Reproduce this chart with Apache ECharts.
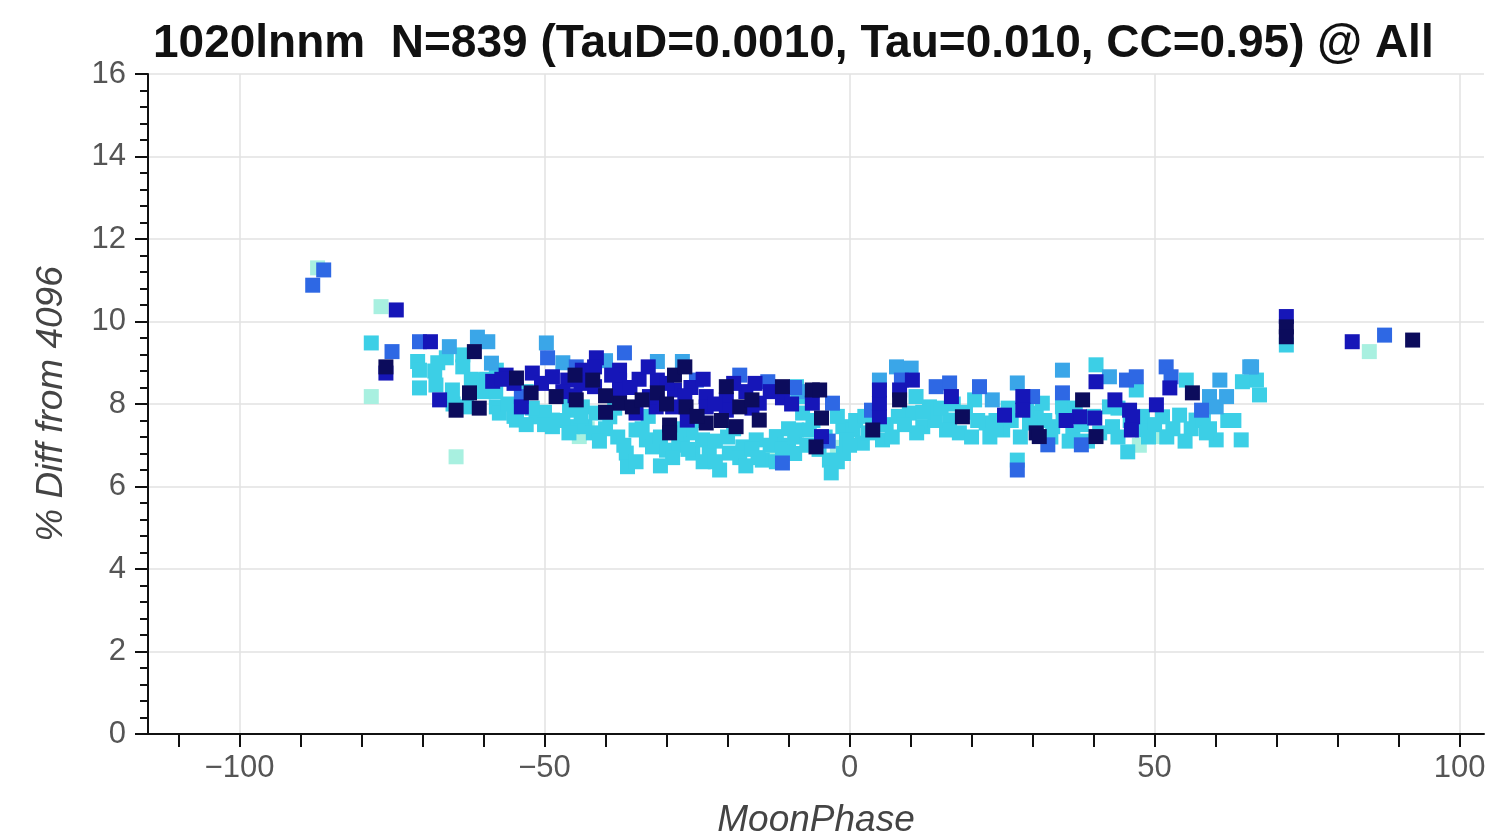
<!DOCTYPE html>
<html>
<head>
<meta charset="utf-8">
<script src="https://cdn.jsdelivr.net/npm/echarts@6/dist/echarts.min.js"></script>
<style>
html,body{margin:0;padding:0;background:#fff;}
#chart{width:1485px;height:839px;}
</style>
</head>
<body>
<div id="chart"></div>
<script>
// ---- Data (MoonPhase, % Diff from 4096), grouped by marker colour ----
const titleText = "1020lnnm  N=839 (TauD=0.0010, Tau=0.010, CC=0.95) @ All";
const xName = "MoonPhase";
const yName = "% Diff from 4096";
const xTickValues = [-110,-100,-90,-80,-70,-60,-50,-40,-30,-20,-10,0,10,20,30,40,50,60,70,80,90,100];
const xLabelValues = [-100,-50,0,50,100];
const xGridValues = [-100,-50,0,50,100];

const palePts = [[-87.2,11.30],[-76.8,10.36],[-78.4,8.18],[-64.5,6.72],[-44.3,7.21],[-43.0,7.40],[50.8,7.21],[85.2,9.27],[-13.0,6.75],[47.5,7.0],[-2.0,6.95]];

const cyanPts = [
[-78.4,9.48],[-70.8,9.03],[-70.5,8.82],[-70.5,8.39],[-66.1,9.12],[-63.4,9.19],[-63.4,8.90],[-61.8,8.58],[-67.8,8.46],[-65.1,8.34],
[-62.8,7.93],[-57.9,8.82],[-57.9,7.93],[-57.4,7.78],[-54.6,7.61],[-51.4,7.69],[-48.7,7.61],[-45.9,7.85],[-45.4,7.45],[-48.7,7.45],
[-45.9,8.18],[-43.8,7.93],[-41.5,7.78],[-39.3,7.69],[-35.0,7.37],[-33.3,7.13],[-36.6,6.81],[-36.4,6.48],[-32.3,6.96],[-30.0,6.88],
[-27.4,7.13],[-25.7,6.81],[-24.1,7.13],[-23.0,6.81],[-21.3,6.40],[-19.7,6.81],[-17.5,6.96],[-15.3,7.13],[-14.3,6.64],[-12.0,7.21],
[-8.7,7.37],[-7.7,7.78],[-8.7,8.42],[-7.7,8.18],[-43.4,7.45],[-3.3,6.64],[-3.0,6.33],[-6.6,7.37],[-1.1,7.45],[0.5,7.37],
[-0.5,7.13],[2.1,7.05],[5.4,7.13],[10.9,8.18],[9.8,7.78],[12.0,7.45],[13.1,7.93],[16.4,7.61],[15.9,7.37],[20.5,8.10],
[22.4,7.54],[25.1,7.37],[29.5,7.54],[27.5,6.64],[30.6,7.78],[40.4,8.95],[47.0,8.34],[31.6,8.02],[34.9,7.93],[42.6,7.93],
[43.1,7.45],[45.6,6.84],[48.0,7.37],[51.3,7.69],[54.1,7.73],[56.8,7.61],[55.2,8.58],[60.1,7.13],[64.2,7.13],[66.7,8.58],
[67.2,8.22],[64.4,8.54],[30.6,7.54],[33.3,7.45],[36.6,7.30],[71.6,9.43],
[-55.0,7.70],[-50.0,7.80],[-47.0,7.60],[-40.0,7.40],[-38.0,7.20],[-34.0,7.40],[-31.0,7.20],[-28.0,7.00],[-26.0,7.30],[-22.0,7.10],
[-20.0,7.20],[-18.0,6.70],[-16.0,6.90],[-13.0,7.00],[-10.0,7.40],[-10.0,7.00],[-6.0,7.60],[-2.0,7.70],[1.0,7.60],[3.0,7.30],
[6.0,7.50],[8.0,7.70],[11.0,7.30],[14.0,7.60],[18.0,7.30],[19.0,7.80],[21.0,7.60],[24.0,7.60],[26.0,7.90],[28.0,7.20],
[32.0,7.60],[35.0,7.60],[38.0,7.50],[41.0,7.30],[44.0,7.90],[48.0,7.70],[50.0,7.50],[53.0,7.40],[56.0,7.40],[58.0,7.60],
[-60.0,8.30],[-56.0,8.00],[-52.0,7.90],[-44.0,7.70],[-42.0,7.30],[-29.0,6.70],[-24.0,6.60],[-17.0,6.50],[-11.0,6.90],[-5.0,6.90],
[-1.0,6.80],[-59.5,8.60],[-53.0,8.30],[-38.5,7.90],[-33.0,7.70],[-26.5,6.90],[-9.0,6.80],[-4.0,7.20],[2.5,7.70],[7.0,7.20],
[17.0,8.00],[23.0,7.20],[26.5,7.60],[37.0,7.90],[39.0,7.10],[46.0,7.60],[52.0,7.20],[58.5,7.30],[62.0,7.60],[-67.5,9.00],
[-46.0,7.30],[-41.0,7.10],[-37.0,7.00],[-35.0,6.60],[-31.0,6.50],[-28.0,7.40],[-25.0,7.60],[-22.0,6.60],[-19.0,7.40],[-15.0,6.70],
[-12.0,6.60],[-9.0,7.20],[-7.0,7.00],[-2.0,6.60],[0.0,7.00],[4.0,7.50],[9.0,7.50],[12.0,7.80],[15.0,7.90],[20.0,7.20],
[24.0,7.40],[29.0,7.90],[33.0,7.20],[36.0,7.10],[40.0,7.70],[44.0,7.20],[49.0,7.20],[55.0,7.10],[59.0,7.40],[63.0,7.60],
[-58.0,8.30],[-62.0,8.60],[-68.0,8.80],[-65.0,8.00],[-50.0,7.50],[-53.0,7.50]
];

const skyPts = [[-65.6,9.39],[-61.0,9.62],[-59.3,9.51],[-58.7,8.99],[-49.7,9.48],[-31.5,9.03],[-27.4,9.03],[4.9,8.58],[7.7,8.90],[10.1,8.87],
[23.4,8.10],[27.5,8.51],[34.9,8.82],[42.6,8.66],[59.0,8.18],[60.1,7.93],[60.7,8.58],[61.8,8.18],[65.6,8.90],[65.9,8.90],[-40.0,9.05],[-47.0,9.00],[-8.5,8.30]];

const royalPts = [[-88.0,10.88],[-86.2,11.25],[-75.0,9.27],[-70.5,9.51],[-53.8,8.18],[-49.5,9.12],[-44.8,8.90],[-36.9,9.24],[-25.1,8.58],[-18.0,8.70],
[-13.4,8.54],[-11.0,6.57],[-2.8,8.02],[3.6,7.85],[8.5,8.58],[14.2,8.42],[16.4,8.51],[21.3,8.42],[27.5,6.40],[30.0,8.18],
[32.5,7.01],[34.9,8.27],[38.0,7.01],[45.4,8.58],[47.0,8.66],[51.9,8.90],[52.7,8.66],[57.7,7.85],[87.7,9.67],[-9.0,8.40],[-3.5,7.10]];

const bluePts = [[-74.3,10.28],[-68.7,9.51],[-67.2,8.10],[-76.0,8.75],[-56.3,8.70],[-52.0,8.75],[-53.8,7.93],[-48.7,8.66],[-46.2,8.58],[-41.5,9.12],
[-41.8,8.90],[-41.8,8.42],[-43.8,8.82],[-37.7,8.82],[-37.7,8.58],[-37.7,8.34],[-35.0,7.78],[-31.5,8.58],[-31.7,7.93],[-32.8,8.18],
[-28.7,8.34],[-29.0,7.93],[-26.6,7.61],[-23.5,8.18],[-23.5,7.93],[-20.2,8.10],[-20.2,7.85],[-14.8,8.02],[-11.0,8.15],[-6.1,8.02],
[-4.6,7.21],[4.9,7.69],[4.9,8.02],[4.9,8.34],[8.2,8.34],[10.3,8.58],[16.7,8.18],[25.4,7.73],[28.4,8.18],[28.4,7.85],
[40.4,8.54],[37.7,7.69],[40.2,7.66],[45.9,7.85],[46.4,7.69],[46.2,7.37],[50.3,7.98],[52.5,8.39],[71.6,10.12],[82.4,9.51],
[-58.5,8.55],[-50.5,8.50],[-45.0,8.20],[-34.5,8.60],[-26.0,8.40],[-17.0,8.30],[-15.5,8.50],[-9.5,8.00],[35.5,7.60],[43.5,8.10],
[-39.0,8.70],[-36.0,8.40],[-33.0,8.90],[-30.0,8.50],[-27.0,8.20],[-24.0,8.60],[-22.0,8.00],[-19.0,8.50],[-16.0,7.90],[-13.0,8.30],
[-44.0,8.50],[-47.0,8.30],[-55.0,8.50],[-57.0,8.60]];

const navyPts = [[-76.0,8.90],[-61.5,9.27],[-62.3,8.27],[-64.5,7.85],[-60.7,7.90],[-54.6,8.63],[-52.2,8.27],[-48.1,8.18],[-44.8,8.10],[-42.1,8.58],
[-37.7,8.02],[-35.6,7.93],[-31.5,8.27],[-28.7,8.70],[-29.5,7.49],[-29.5,7.30],[-26.8,7.93],[-23.5,7.54],[-20.2,8.42],[-18.6,7.45],
[-18.0,7.93],[-14.8,7.61],[-11.0,8.42],[-6.1,8.34],[-4.9,8.34],[-4.6,7.66],[-5.5,6.96],[3.8,7.37],[8.2,8.10],[18.5,7.69],
[30.6,7.30],[31.1,7.21],[38.2,8.10],[40.4,7.21],[56.2,8.27],[71.6,9.87],[71.6,9.63],[92.3,9.55],[-40.0,8.20],[-25.0,7.70],
[-34.0,8.10],[-30.0,8.00],[-21.0,7.60],[-16.0,8.10],[-40.0,7.80],[-45.0,8.70],[-27.0,8.90]];

const groups = [
  {name:'pale', color:'#a8f0e0', data:palePts},
  {name:'cyan', color:'#3ccfe6', data:cyanPts},
  {name:'sky', color:'#3aa6e8', data:skyPts},
  {name:'royal', color:'#2e68e4', data:royalPts},
  {name:'blue', color:'#1616b8', data:bluePts},
  {name:'navy', color:'#0c0c5c', data:navyPts}
];

const chart = echarts.init(document.getElementById('chart'), null, {renderer:'canvas'});
const labelFont = {fontFamily:'Liberation Sans, Arial, sans-serif', fontSize:31, color:'#555'};
const minusFmt = v => String(v).replace('-', '\u2212');

chart.setOption({
  animation:false,
  backgroundColor:'#fff',
  title:{
    text:titleText, left:148, top:16,
    textStyle:{fontFamily:'Liberation Sans, Arial, sans-serif', fontWeight:'bold', fontSize:46, color:'#111'}
  },
  grid:{left:148, right:1, top:74, bottom:105, containLabel:false, outerBoundsMode:'none'},
  xAxis:[{
    type:'value', min:-115, max:104, position:'bottom',
    name:xName, nameLocation:'middle', nameGap:68,
    nameTextStyle:{fontFamily:'Liberation Sans, Arial, sans-serif', fontSize:37, fontStyle:'italic', color:'#444'},
    axisLine:{show:true, onZero:false, lineStyle:{color:'#111', width:2}},
    axisTick:{show:true, inside:false, length:13, customValues:xTickValues, lineStyle:{color:'#111', width:2}},
    axisLabel:Object.assign({customValues:xLabelValues, margin:19, formatter:minusFmt}, labelFont),
    splitLine:{show:false}
  },{
    type:'value', min:-115, max:104, position:'top',
    axisLine:{show:false}, axisLabel:{show:false},
    axisTick:{show:false, customValues:xGridValues},
    splitLine:{show:true, lineStyle:{color:'#e2e2e2', width:1.5}}
  }],
  yAxis:{
    type:'value', min:0, max:16, interval:2,
    name:yName, nameLocation:'middle', nameGap:78, nameRotate:90,
    nameTextStyle:{fontFamily:'Liberation Sans, Arial, sans-serif', fontSize:37, fontStyle:'italic', color:'#444'},
    axisLine:{show:true, onZero:false, lineStyle:{color:'#111', width:2}},
    axisTick:{show:true, inside:false, length:13, lineStyle:{color:'#111', width:2}},
    minorTick:{show:true, splitNumber:5, length:8, lineStyle:{color:'#111', width:2}},
    axisLabel:Object.assign({margin:22}, labelFont),
    splitLine:{show:true, lineStyle:{color:'#e2e2e2', width:1.5}}
  },
  series:groups.map(g => ({
    type:'scatter', name:g.name, xAxisIndex:0, yAxisIndex:0,
    symbol:'rect', symbolSize:15,
    itemStyle:{color:g.color, opacity:1},
    emphasis:{disabled:true},
    data:g.data
  }))
});
</script>
</body>
</html>
